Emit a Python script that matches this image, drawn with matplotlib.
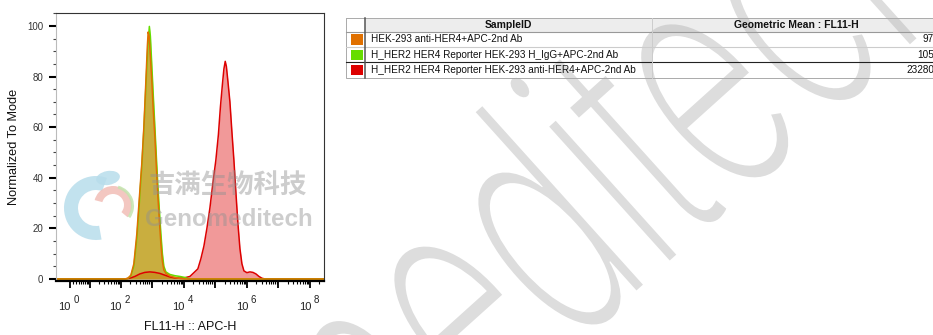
import matplotlib
matplotlib.use("Agg")
import matplotlib.pyplot as plt
from matplotlib import font_manager
from matplotlib.patches import Rectangle, Wedge, Ellipse, PathPatch
from matplotlib.lines import Line2D
from matplotlib.textpath import TextPath
from matplotlib.font_manager import FontProperties
from matplotlib.transforms import Affine2D
from matplotlib.ticker import FixedLocator, NullFormatter, MultipleLocator

plt.rcParams['font.family'] = ['Liberation Sans', 'DejaVu Sans']

W, H = 933, 335

# FL11-H :: APC-H intensity vs. normalized-to-mode count
orange_x = [-3, 135, 168, 209, 260, 324, 388, 467, 540, 625, 697, 740, 795, 869, 969,
            1080, 1210, 1350, 1500, 1680, 1870, 2090, 2330, 2700, 3600, 5200, 7500,
            10800, 2.8e8]
orange_y = [0, 0, 0.3, 1.5, 6, 18, 32, 46, 60, 78, 92, 97.6, 96, 88, 78,
            66, 56, 44, 33, 23, 14, 7, 3.5, 2.2, 1.2, 0.6, 0.2,
            0, 0]

green_x = [-3, 135, 168, 209, 260, 324, 388, 467, 540, 625, 723, 807, 869, 969, 1080,
           1210, 1350, 1500, 1680, 1870, 2090, 2330, 2700, 3600, 5200, 7500, 10800,
           13500, 15600, 2.8e8]
green_y = [0, 0, 0.2, 1.2, 5, 16, 30, 45, 59, 76, 92, 99.8, 96, 84, 72,
           60, 48, 37, 27, 18, 10, 5, 2.8, 1.8, 1.3, 1.0, 0.6,
           0.2, 0, 0]

red_x = [-3, 135, 194, 280, 403, 581, 838, 1210, 1740, 2510, 3610, 5200, 7500, 10800,
         15600, 20900, 27900, 34800, 43400, 54000, 67200, 83800, 104000, 125000,
         145000, 168000, 187000, 206000, 224000, 251000, 290000, 336000, 388000,
         450000, 520000, 603000, 697000, 807000, 1000000, 1250000, 1560000,
         1940000, 2420000, 3010000, 3740000, 2.8e8]
red_y = [0, 0, 0.3, 1.0, 2.0, 2.6, 2.8, 2.6, 2.2, 1.5, 0.8, 0.4, 0.3, 0.5,
         1.0, 2.5, 4, 8, 13, 20, 28, 38, 47, 57,
         68, 77, 83, 86, 84, 78, 70, 58, 47,
         34, 22, 12, 6, 3.2, 2.5, 2.8, 2.6,
         2.0, 1.0, 0.3, 0, 0]

samples = ["HEK-293 anti-HER4+APC-2nd Ab",
           "H_HER2 HER4 Reporter HEK-293 H_IgG+APC-2nd Ab",
           "H_HER2 HER4 Reporter HEK-293 anti-HER4+APC-2nd Ab"]
geo_means = ["97", "105", "23280"]
colors = ["#E07000", "#66DD00", "#DD0000"]

fig = plt.figure(figsize=(W / 100, H / 100), dpi=100)
ax = fig.add_axes([56 / W, 1 - 281 / H, 268 / W, 268 / H])

# red underneath, orange on top
ax.fill_between(red_x, red_y, color=colors[2], alpha=0.4, lw=0)
ax.plot(red_x, red_y, color=colors[2], lw=1.1)
ax.fill_between(green_x, green_y, color=colors[1], alpha=0.5, lw=0)
ax.plot(green_x, green_y, color=colors[1], lw=1.1)
ax.fill_between(orange_x, orange_y, color=colors[0], alpha=0.5, lw=0)
ax.plot(orange_x, orange_y, color=colors[0], lw=1.1)

ax.set_xscale('asinh', linear_width=3.7)
ax.set_xlim(-3, 2.8e8)
ax.set_ylim(-0.8, 105.1)

decades = [10 ** k for k in range(9)]
minors = [m * 10 ** k for k in range(8) for m in range(2, 10)] + [2e8]
ax.xaxis.set_major_locator(FixedLocator(decades))
ax.xaxis.set_minor_locator(FixedLocator(minors))
ax.xaxis.set_major_formatter(NullFormatter())
ax.xaxis.set_minor_formatter(NullFormatter())
ax.yaxis.set_major_locator(FixedLocator([0, 20, 40, 60, 80, 100]))
ax.yaxis.set_minor_locator(MultipleLocator(5))

ax.tick_params(axis='x', which='major', direction='out', length=5, width=1.3, color='black')
ax.tick_params(axis='x', which='minor', direction='out', length=2.5, width=0.8, color='black')
ax.tick_params(axis='y', which='major', direction='out', length=5, width=1.5, color='black',
               labelsize=7, labelcolor='#333333', pad=4)
ax.tick_params(axis='y', which='minor', direction='out', length=2, width=0.8, color='#444444')

for k in range(0, 9, 2):
    ax.annotate("10", xy=(10 ** k, 0), xycoords=('data', 'axes fraction'),
                xytext=(0.8, -18.7), textcoords='offset points',
                ha='right', va='center', fontsize=8, color='#222222')
    ax.annotate(str(k), xy=(10 ** k, 0), xycoords=('data', 'axes fraction'),
                xytext=(2.6, -14.0), textcoords='offset points',
                ha='left', va='center', fontsize=7, color='#222222')

ax.spines['left'].set_color('#BBBBBB')
ax.spines['left'].set_linewidth(0.8)
ax.spines['top'].set_color('#333333')
ax.spines['top'].set_linewidth(0.8)
ax.spines['right'].set_color('#333333')
ax.spines['right'].set_linewidth(0.8)
ax.spines['bottom'].set_color('black')
ax.spines['bottom'].set_linewidth(1.6)

fig.text(190 / W, 1 - 327 / H, "FL11-H :: APC-H", ha='center', va='center',
         fontsize=9, color='#111111')
fig.text(14 / W, 1 - 147 / H, "Normalized To Mode", ha='center', va='center',
         rotation=90, fontsize=9.2, color='#111111')

# overlay in pixel coordinates for the stats table and the watermarks
ov = fig.add_axes([0, 0, 1, 1], zorder=3)
ov.set_xlim(0, W)
ov.set_ylim(H, 0)
ov.axis('off')
ov.patch.set_alpha(0)

tab_l, tab_c1, tab_c2, tab_r = 346, 365, 652, 941
row_edges = [17.5, 31.5, 47, 62, 77.5]

ov.add_patch(Rectangle((tab_c1, row_edges[0]), tab_r - tab_c1, row_edges[1] - row_edges[0],
                       facecolor='#EDEDED', edgecolor='none'))
ov.add_patch(Rectangle((tab_l, row_edges[0]), tab_r - tab_l, row_edges[-1] - row_edges[0],
                       facecolor='none', edgecolor='#AAAAAA', lw=0.7))
line_cols = ['#999999', '#CCCCCC', '#222222']
for y, c in zip(row_edges[1:4], line_cols):
    ov.add_line(Line2D([tab_l, tab_r], [y, y], color=c, lw=0.8))
ov.add_line(Line2D([tab_c1, tab_c1], [row_edges[0], row_edges[-1]], color='#555555', lw=1.1))
ov.add_line(Line2D([tab_c2, tab_c2], [row_edges[0], row_edges[-1]], color='#CCCCCC', lw=0.7))

ov.text((tab_c1 + tab_c2) / 2, 24.7, "SampleID", ha='center', va='center',
        fontsize=7.5, fontweight='bold', color='#111111')
ov.text((tab_c2 + tab_r) / 2, 24.7, "Geometric Mean : FL11-H", ha='center', va='center',
        fontsize=7.5, fontweight='bold', color='#111111')

for i, (name, val, c) in enumerate(zip(samples, geo_means, colors)):
    top, bot = row_edges[i + 1], row_edges[i + 2]
    mid = (top + bot) / 2
    ov.add_patch(Rectangle((351, top + 2.8), 12, bot - top - 5, facecolor=c, edgecolor='none'))
    ov.text(371, mid, name, ha='left', va='center', fontsize=7.2, color='#111111')
    ov.text(934, mid, val, ha='right', va='center', fontsize=7.2, color='#111111')

# company logo and name
ov.add_patch(Wedge((96, 208), 32, 80, 290, width=14, facecolor='#B8DDEB', edgecolor='none', alpha=0.85))
ov.add_patch(Ellipse((108, 178), 24, 14, angle=-10, facecolor='#B8DDEB', edgecolor='none', alpha=0.85))
ov.add_patch(Wedge((113, 205), 19, 195, 40, width=8, facecolor='#F2BDB6', edgecolor='none', alpha=0.85))
ov.add_patch(Wedge((113, 206), 21, -75, 35, width=3, facecolor='#C3E4AE', edgecolor='none', alpha=0.85))
ov.text(228, 186, "吉满生物科技", ha='center', va='center', fontsize=19, fontweight='bold',
        family=['Noto Sans CJK SC', 'DejaVu Sans'], color='#919191', alpha=0.45)
ov.text(229, 220, "Genomeditech", ha='center', va='center', fontsize=17.4, fontweight='bold',
        color='#919191', alpha=0.45)

# large diagonal brand name across the right half, in a light-weight face
light = [f for f in font_manager.fontManager.ttflist
         if f.name in ('Lato', 'Roboto', 'Open Sans', 'Noto Sans', 'Inter', 'DejaVu Sans')
         and f.style == 'normal' and isinstance(f.weight, int) and f.weight <= 300]
fp = FontProperties(fname=light[0].fname) if light else FontProperties(family='Liberation Sans')
brand = TextPath((0, 0), "Genomeditech", size=1, prop=fp)
d_path = TextPath((0, 0), "Genomed", size=1, prop=fp)
anchor = d_path.get_extents().x1 - 0.04
big = (Affine2D().translate(-anchor, 0).scale(200, -330).rotate_deg(-42)
       .translate(637, 290) + ov.transData)
ov.add_patch(PathPatch(brand, transform=big, facecolor='#AAAAAA', edgecolor='none', alpha=0.4))

fig.savefig("out.png", dpi=100)
